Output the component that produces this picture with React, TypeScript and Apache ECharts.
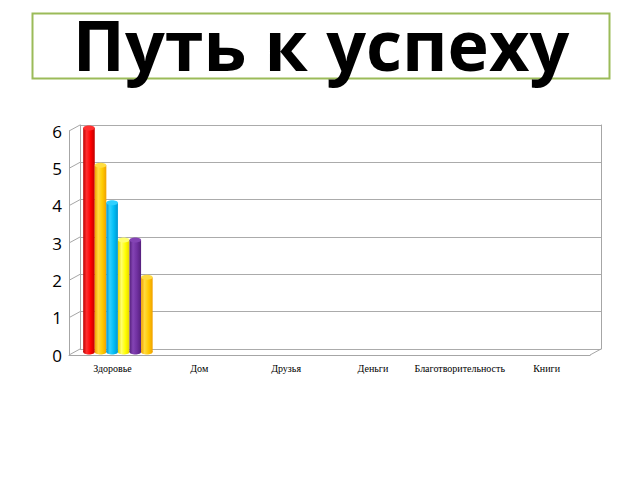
import React, { useEffect, useRef } from "react";
import * as echarts from "echarts";

const categories = ["Здоровье", "Дом", "Друзья", "Деньги", "Благотворительность", "Книги"];
const yTicks = [0, 1, 2, 3, 4, 5, 6];
const seriesNames = ["Ряд 1", "Ряд 2", "Ряд 3", "Ряд 4", "Ряд 5", "Ряд 6"];
const series1 = [6, null, null, null, null, null];
const series2 = [5, null, null, null, null, null];
const series3 = [4, null, null, null, null, null];
const series4 = [3, null, null, null, null, null];
const series5 = [3, null, null, null, null, null];
const series6 = [2, null, null, null, null, null];
const allSeries = [series1, series2, series3, series4, series5, series6];

const palette = [
  { base: "#FF0000", light: "#FF3030", dark: "#C00000" },
  { base: "#FFCC00", light: "#FFDD40", dark: "#F0A000" },
  { base: "#00BDF5", light: "#30D0FF", dark: "#0095D0" },
  { base: "#FFFF00", light: "#FFFF70", dark: "#E6D200" },
  { base: "#7030A0", light: "#8444B4", dark: "#55207C" },
  { base: "#FFC800", light: "#FFDA40", dark: "#F0A000" },
];

// depth of the fake 3d box
const DX = 11;
const DY = -6;

const App = () => {
  const chartRef = useRef(null);

  useEffect(() => {
    if (!chartRef.current) return;
    const chart = echarts.init(chartRef.current, null, { renderer: "svg" });

    const barSeries = allSeries.map((vals, si) => {
      const c = palette[si];
      return {
        name: seriesNames[si],
        type: "custom",
        xAxisIndex: 2,
        yAxisIndex: 3,
        data: vals
          .map((v, i) => (v == null ? null : [i, v]))
          .filter((d) => d !== null),
        renderItem: (params, api) => {
          const idx = api.value(0);
          const v = api.value(1);
          const top = api.coord([idx, v]);
          const base = api.coord([idx, 0]);
          const band = api.size([1, 0])[0];
          const w = (band * 0.8) / allSeries.length;
          const x0 = top[0] - (w * allSeries.length) / 2 + si * w;
          const cx = x0 + w / 2;
          const grad = new echarts.graphic.LinearGradient(0, 0, 1, 0, [
            { offset: 0, color: c.dark },
            { offset: 0.3, color: c.light },
            { offset: 0.65, color: c.base },
            { offset: 1, color: c.dark },
          ]);
          return {
            type: "group",
            children: [
              { type: "ellipse", shape: { cx, cy: base[1], rx: w / 2, ry: 2.5 }, style: { fill: grad } },
              { type: "rect", shape: { x: x0, y: top[1], width: w, height: base[1] - top[1] }, style: { fill: grad } },
              { type: "ellipse", shape: { cx, cy: top[1], rx: w / 2, ry: 2.5 }, style: { fill: c.light } },
            ],
          };
        },
      };
    });

    const frameSeries = {
      type: "custom",
      xAxisIndex: 0,
      yAxisIndex: 0,
      silent: true,
      data: yTicks.map((v) => [0, v]),
      renderItem: (params, api) => {
        const cs = params.coordSys;
        const v = api.value(1);
        const p = api.coord([0, v]);
        const lineStyle = { stroke: "#A6A6A6", lineWidth: 1 };
        const children = [
          { type: "line", shape: { x1: cs.x, y1: p[1], x2: cs.x + DX, y2: p[1] + DY }, style: lineStyle },
        ];
        if (v === 0) {
          children.push({
            type: "line",
            shape: { x1: cs.x + cs.width, y1: p[1], x2: cs.x + cs.width + DX, y2: p[1] + DY },
            style: lineStyle,
          });
        }
        return { type: "group", children };
      },
    };

    const options = {
      animation: false,
      graphic: [
        {
          type: "rect",
          z: 1,
          shape: { x: 32.5, y: 13.5, width: 577, height: 65 },
          style: { fill: "none", stroke: "#9BBB59", lineWidth: 2 },
        },
        {
          type: "text",
          z: 10,
          x: 321,
          y: 44,
          style: {
            text: "Путь к успеху",
            fontSize: 70,
            fontWeight: "bold",
            fontFamily: "Open Sans",
            fill: "#000000",
            align: "center",
            verticalAlign: "middle",
            textAlign: "center",
            textVerticalAlign: "middle",
          },
        },
      ],
      grid: [
        { left: 69, top: 131, width: 521, height: 224 },
        { left: 80, top: 125, width: 521, height: 224 },
        { left: 74.5, top: 128, width: 521, height: 224 },
      ],
      xAxis: [
        {
          type: "category",
          gridIndex: 0,
          data: categories,
          axisLine: { show: true, lineStyle: { color: "#A6A6A6" } },
          axisTick: { show: false },
          axisLabel: {
            interval: 0,
            margin: 8,
            fontFamily: "Liberation Serif",
            fontSize: 10,
            color: "#000000",
          },
        },
        { type: "category", gridIndex: 1, data: categories, show: false },
        { type: "category", gridIndex: 2, data: categories, show: false },
      ],
      yAxis: [
        {
          type: "value",
          gridIndex: 0,
          min: 0,
          max: 6,
          interval: 1,
          axisLine: { show: true, lineStyle: { color: "#A6A6A6" } },
          axisTick: { show: false },
          splitLine: { show: false },
          axisLabel: { margin: 7, fontFamily: "Open Sans", fontSize: 17, color: "#000000" },
        },
        {
          type: "value",
          gridIndex: 1,
          min: 0,
          max: 6,
          interval: 1,
          axisLine: { show: true, lineStyle: { color: "#A6A6A6" } },
          axisTick: { show: false },
          axisLabel: { show: false },
          splitLine: { show: true, lineStyle: { color: "#ABABAB" } },
        },
        {
          type: "value",
          gridIndex: 1,
          position: "right",
          min: 0,
          max: 6,
          interval: 1,
          axisLine: { show: true, lineStyle: { color: "#A6A6A6" } },
          axisTick: { show: false },
          axisLabel: { show: false },
          splitLine: { show: false },
        },
        { type: "value", gridIndex: 2, min: 0, max: 6, interval: 1, show: false, splitLine: { show: false } },
      ],
      series: [frameSeries, ...barSeries],
    };

    chart.setOption(options);
    return () => chart.dispose();
  }, []);

  return (
    <div
      ref={chartRef}
      style={{ position: "fixed", left: 0, top: 0, width: "640px", height: "480px", background: "#FFFFFF" }}
    />
  );
};

export default App;
